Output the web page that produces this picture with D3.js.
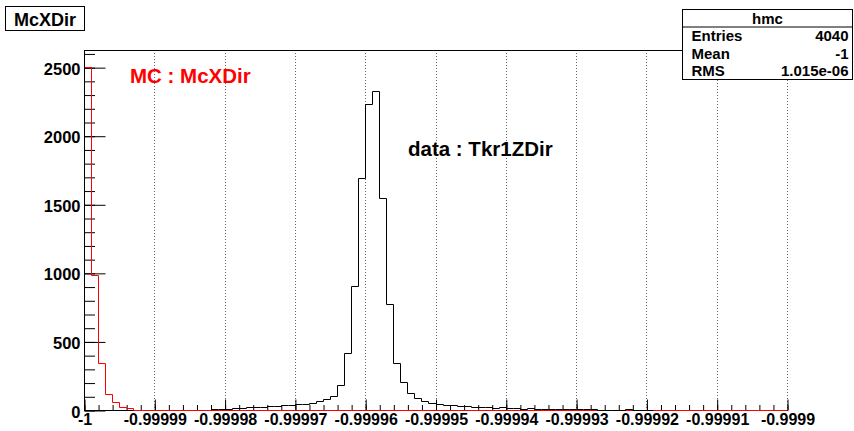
<!DOCTYPE html>
<html>
<head>
<meta charset="utf-8">
<script src="https://cdn.jsdelivr.net/npm/d3@7"></script>
<style>
  html, body { margin: 0; padding: 0; background: #fff; }
  svg { display: block; font-family: "Liberation Sans", Arial, Helvetica, sans-serif; font-weight: bold; }
</style>
</head>
<body>
<svg id="chart" width="854" height="431"></svg>
<script>
// Histogram range and binning
const xRange = [-1, -0.9999];
const binCount = 100;

// Axis ticks
const xTickValues = [-1, -0.99999, -0.99998, -0.99997, -0.99996, -0.99995, -0.99994, -0.99993, -0.99992, -0.99991, -0.9999];
const xTickLabels = ["-1", "-0.99999", "-0.99998", "-0.99997", "-0.99996", "-0.99995", "-0.99994", "-0.99993", "-0.99992", "-0.99991", "-0.9999"];
const yTickValues = [0, 500, 1000, 1500, 2000, 2500];
const yMax = 2625;

// MC : McXDir bin contents (red)
const mcCounts = [
  2500, 984, 340, 117, 58, 24, 17, 0, 0, 0,
  0, 0, 0, 0, 0, 0, 0, 0, 0, 0,
  0, 0, 0, 0, 0, 0, 0, 0, 0, 0,
  0, 0, 0, 0, 0, 0, 0, 0, 0, 0,
  0, 0, 0, 0, 0, 0, 0, 0, 0, 0,
  0, 0, 0, 0, 0, 0, 0, 0, 0, 0,
  0, 0, 0, 0, 0, 0, 0, 0, 0, 0,
  0, 0, 0, 0, 0, 0, 0, 0, 0, 0,
  0, 0, 0, 0, 0, 0, 0, 0, 0, 0,
  0, 0, 0, 0, 0, 0, 0, 0, 0, 0
];

// data : Tkr1ZDir bin contents (black)
const dataCounts = [
  0, 0, 0, 0, 0, 0, 0, 0, 0, 0,
  0, 0, 0, 0, 0, 0, 0, 0, 6, 8,
  10, 14, 16, 19, 22, 25, 27, 30, 33, 37,
  41, 46, 52, 62, 78, 105, 182, 418, 904, 1690,
  2231, 2326, 1544, 773, 340, 207, 125, 88, 64, 50,
  44, 38, 33, 30, 27, 25, 22, 19, 17, 20,
  13, 12, 10, 11, 8, 9, 6, 6, 5, 5,
  4, 4, 6, 3, 3, 2, 2, 9, 2, 1,
  1, 0, 0, 0, 0, 0, 0, 0, 0, 0,
  0, 0, 0, 0, 0, 0, 0, 0, 0, 0
];

// Statistics box
const statsTitle = "hmc";
const statsRows = [["Entries", "4040"], ["Mean", "-1"], ["RMS", "1.015e-06"]];

const plotTitle = "McXDir";
const mcLabel = "MC : McXDir";
const dataLabel = "data : Tkr1ZDir";

// ---- layout ----
const frame = { left: 84, right: 787, top: 50, bottom: 410 };

const svg = d3.select("#chart");
svg.append("rect").attr("width", 854).attr("height", 431).attr("fill", "#fff");

const x = d3.scaleLinear().domain(xRange).range([frame.left, frame.right]);
const y = d3.scaleLinear().domain([0, yMax]).range([frame.bottom, frame.top]);
const binWidth = (xRange[1] - xRange[0]) / binCount;
const edge = i => xRange[0] + i * binWidth;

// vertical dotted grid
svg.append("g").selectAll("line")
  .data(xTickValues.slice(1))
  .join("line")
  .attr("x1", d => Math.round(x(d)) + 0.5).attr("x2", d => Math.round(x(d)) + 0.5)
  .attr("y1", frame.top).attr("y2", frame.bottom)
  .attr("stroke", "#666").attr("stroke-width", 1).attr("stroke-dasharray", "1,2");

// frame: top edge and x baseline
svg.append("line")
  .attr("x1", frame.left).attr("x2", frame.right + 1)
  .attr("y1", frame.top + 0.5).attr("y2", frame.top + 0.5)
  .attr("stroke", "#000");
svg.append("line")
  .attr("x1", frame.left).attr("x2", frame.right + 1)
  .attr("y1", frame.bottom + 0.5).attr("y2", frame.bottom + 0.5)
  .attr("stroke", "#000");

// x axis: major and minor ticks pointing into the frame
const xMinor = d3.range(0, 51).map(i => xRange[0] + i * 2 * binWidth);
const xMinorAxis = d3.axisBottom(x).tickValues(xMinor).tickSizeInner(-5.5).tickSizeOuter(0).tickFormat("");
const xMajorAxis = d3.axisBottom(x).tickValues(xTickValues).tickSizeInner(-11).tickSizeOuter(0)
  .tickPadding(3.5).tickFormat((d, i) => xTickLabels[i]);

const gxMinor = svg.append("g").attr("transform", `translate(0.5,${frame.bottom + 0.5})`).call(xMinorAxis);
const gxMajor = svg.append("g").attr("transform", `translate(0.5,${frame.bottom + 0.5})`).call(xMajorAxis);
[gxMinor, gxMajor].forEach(a => {
  a.select(".domain").remove();
  a.selectAll("line").attr("stroke", "#000");
});
gxMajor.selectAll("text")
  .attr("fill", "#000")
  .style("font-size", "16px").style("font-weight", "bold")
  .style("font-family", "'Liberation Sans', Arial, sans-serif");

// y axis
const yMinor = d3.range(0, 2601, 100);
const yMinorAxis = d3.axisLeft(y).tickValues(yMinor).tickSizeInner(-10.5).tickSizeOuter(0).tickFormat("");
const yMajorAxis = d3.axisLeft(y).tickValues(yTickValues).tickSizeInner(-21).tickSizeOuter(0)
  .tickPadding(4).tickFormat(d3.format("d"));
const gyMinor = svg.append("g").attr("transform", `translate(${frame.left + 0.5},0.5)`).call(yMinorAxis);
const gyMajor = svg.append("g").attr("transform", `translate(${frame.left + 0.5},0.5)`).call(yMajorAxis);
[gyMinor, gyMajor].forEach(a => {
  a.select(".domain").remove();
  a.selectAll("line").attr("stroke", "#000");
});
gyMajor.selectAll("text")
  .attr("fill", "#000").attr("dy", "0.4em")
  .style("font-size", "16.5px").style("font-weight", "bold")
  .style("font-family", "'Liberation Sans', Arial, sans-serif");

// step outline from a list of counts, snapped to whole pixels
function stepPath(counts, first, last, closeToEnd) {
  const px = v => Math.round(x(v));
  const py = v => Math.round(y(v));
  const p = d3.path();
  p.moveTo(px(edge(first)), py(0));
  for (let i = first; i <= last; i++) {
    p.lineTo(px(edge(i)), py(counts[i]));
    p.lineTo(px(edge(i + 1)), py(counts[i]));
  }
  p.lineTo(px(edge(last + 1)), py(0));
  if (closeToEnd) p.lineTo(px(edge(binCount)), py(0));
  return p.toString();
}
function nonZeroSpan(counts) {
  const a = counts.findIndex(v => v > 0);
  let b = counts.length - 1;
  while (b > 0 && counts[b] === 0) b--;
  return [a, b];
}

// histograms, drawn over the tick marks
const g = svg.append("g").attr("transform", "translate(0.5,0.5)");
const [mcA, mcB] = nonZeroSpan(mcCounts);
g.append("path")
  .attr("d", stepPath(mcCounts, mcA, mcB, true))
  .attr("fill", "none").attr("stroke", "#ff0000").attr("stroke-width", 1);
const [dA, dB] = nonZeroSpan(dataCounts);
g.append("path")
  .attr("d", stepPath(dataCounts, dA, dB, false))
  .attr("fill", "none").attr("stroke", "#000").attr("stroke-width", 1);

// left frame edge
svg.append("line")
  .attr("x1", frame.left + 0.5).attr("x2", frame.left + 0.5)
  .attr("y1", frame.top).attr("y2", frame.bottom + 1)
  .attr("stroke", "#000");

// in-plot labels
svg.append("text").attr("x", 130).attr("y", 83)
  .attr("fill", "#ff0000").style("font-size", "20.5px").text(mcLabel);
svg.append("text").attr("x", 408).attr("y", 156)
  .attr("fill", "#000").style("font-size", "20.5px").text(dataLabel);

// title box
svg.append("rect").attr("x", 5.5).attr("y", 6.5).attr("width", 79).attr("height", 24)
  .attr("fill", "#fff").attr("stroke", "#000");
svg.append("text").attr("x", 45).attr("y", 26).attr("text-anchor", "middle")
  .style("font-size", "18px").attr("fill", "#000").text(plotTitle);

// statistics box
const sb = { x: 682.5, y: 9.5, w: 170, h: 70 };
const rowH = sb.h / (statsRows.length + 1);
svg.append("rect").attr("x", sb.x).attr("y", sb.y).attr("width", sb.w).attr("height", sb.h)
  .attr("fill", "#fff").attr("stroke", "#000");
svg.append("line").attr("x1", sb.x).attr("x2", sb.x + sb.w)
  .attr("y1", sb.y + rowH).attr("y2", sb.y + rowH).attr("stroke", "#000");
svg.append("text").attr("x", sb.x + sb.w / 2).attr("y", sb.y + rowH / 2).attr("dy", "0.36em")
  .attr("text-anchor", "middle").style("font-size", "15px").attr("fill", "#000").text(statsTitle);
statsRows.forEach((r, i) => {
  const cy = sb.y + rowH * (i + 1.5);
  svg.append("text").attr("x", sb.x + 9).attr("y", cy).attr("dy", "0.36em")
    .style("font-size", "15px").attr("fill", "#000").text(r[0]);
  svg.append("text").attr("x", sb.x + sb.w - 4).attr("y", cy).attr("dy", "0.36em")
    .attr("text-anchor", "end").style("font-size", "15px").attr("fill", "#000").text(r[1]);
});
</script>
</body>
</html>
